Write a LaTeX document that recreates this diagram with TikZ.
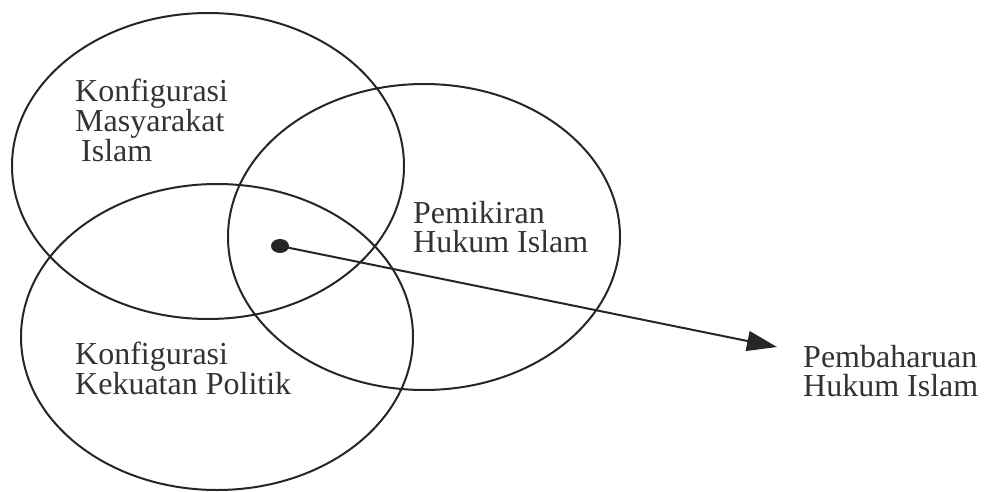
\documentclass[tikz,border=0pt]{standalone}
\usepackage{fontspec}
\setmainfont{Liberation Serif}
\usetikzlibrary{shapes.geometric,arrows.meta}
\definecolor{Ink}{HTML}{262626}
\definecolor{Label}{HTML}{333333}
\tikzset{
  ring/.style={draw=Ink,line width=2pt,ellipse,inner sep=0pt,
    minimum width=392pt,minimum height=306pt},
  ring label/.style={anchor=west,align=left,inner sep=0pt,text=Label,
    font=\fontsize{32}{29}\selectfont},
  core dot/.style={ellipse,fill=Ink,inner sep=0pt,minimum width=18pt,minimum height=14pt},
  flow arrow/.style={-{Triangle[length=30pt,width=20pt]},line width=2pt,draw=Ink}
}

\begin{document}
\begin{tikzpicture}[x=1pt,y=-1pt]
  \useasboundingbox (0,0) rectangle (987,492);
  % the three overlapping fields
  \node[ring] (masy) at (208,166) {};
  \node[ring] (pemi) at (424,237) {};
  \node[ring] (poli) at (217,337) {};
  \node[ring label] (masylabel) at (75,120) {Konfigurasi\\Masyarakat\\\hspace{6pt}Islam};
  \node[ring label] (pemilabel) at (413,227) {Pemikiran\\Hukum Islam};
  \node[ring label] (polilabel) at (75,368) {Konfigurasi\\Kekuatan Politik};
  % outcome
  \node[ring label] (pemb) at (803,371) {Pembaharuan\\Hukum Islam};
  \node[core dot] (core) at (280,246) {};
  \coordinate (tip) at (777,347);
  \draw[flow arrow] (core.center) -- (tip);
\end{tikzpicture}
\end{document}
